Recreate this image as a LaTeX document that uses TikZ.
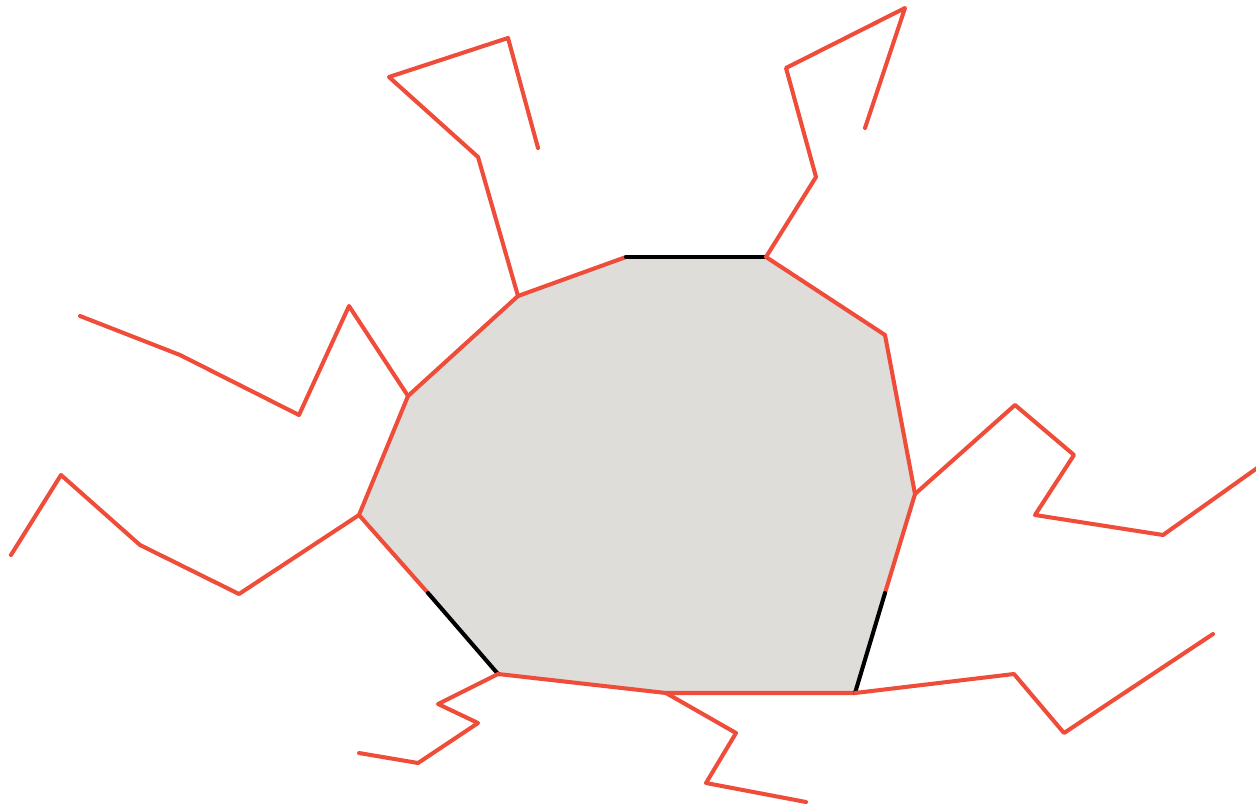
\documentclass[tikz,border=0pt]{standalone}
\definecolor{crackred}{RGB}{239,76,58}
\definecolor{cellgray}{RGB}{223,221,218}
\begin{document}
\begin{tikzpicture}[x=0.02cm, y=-0.02cm,
	crack/.style={crackred, line width=2.3pt, line cap=round, line join=round},
	wall/.style={black, line width=2.3pt, line cap=round, line join=round}]
		\useasboundingbox (0,0) rectangle (1256,807);
		\clip (0,0) rectangle (1256,807);
		
		% Corners of the cell
		\coordinate (a) at (518,296);
		\coordinate (b) at (626,257);
		\coordinate (c) at (766,257);
		\coordinate (d) at (885,335);
		\coordinate (e) at (915,494);
		\coordinate (f) at (885,593);
		\coordinate (g) at (855,693);
		\coordinate (h) at (666,693);
		\coordinate (i) at (498,674);
		\coordinate (j) at (428,593);
		\coordinate (k) at (359,515);
		\coordinate (l) at (408,396);
		
		% Cell body
		\fill[cellgray] (a) -- (b) -- (c) -- (d) -- (e) -- (f) -- (g) -- (h) -- (i) -- (j) -- (k) -- (l) -- cycle;
		
		% Red border
		\draw[crack] (a) -- (b);
		\draw[crack] (c) -- (d) -- (e) -- (f);
		\draw[crack] (g) -- (h) -- (i);
		\draw[crack] (j) -- (k) -- (l) -- (a);
		
		% Black border pieces
		\draw[wall] (b) -- (c);
		\draw[wall] (f) -- (g);
		\draw[wall] (i) -- (j);
		
		% Cracks going out
		\draw[crack] (a) -- (478,157) -- (389,77) -- (508,38) -- (538,148);
		\draw[crack] (c) -- (816,177) -- (786,68) -- (905,8) -- (865,128);
		\draw[crack] (l) -- (349,306) -- (299,415) -- (180,355) -- (80,316);
		\draw[crack] (k) -- (239,594) -- (140,545) -- (61,475) -- (11,555);
		\draw[crack] (e) -- (1015,405) -- (1074,455) -- (1035,515) -- (1163,535) -- (1260,466);
		\draw[crack] (g) -- (1014,674) -- (1064,733) -- (1213,634);
		\draw[crack] (i) -- (438,704) -- (478,723) -- (418,763) -- (359,753);
		\draw[crack] (h) -- (736,733) -- (706,783) -- (806,802);
	\end{tikzpicture}
\end{document}
